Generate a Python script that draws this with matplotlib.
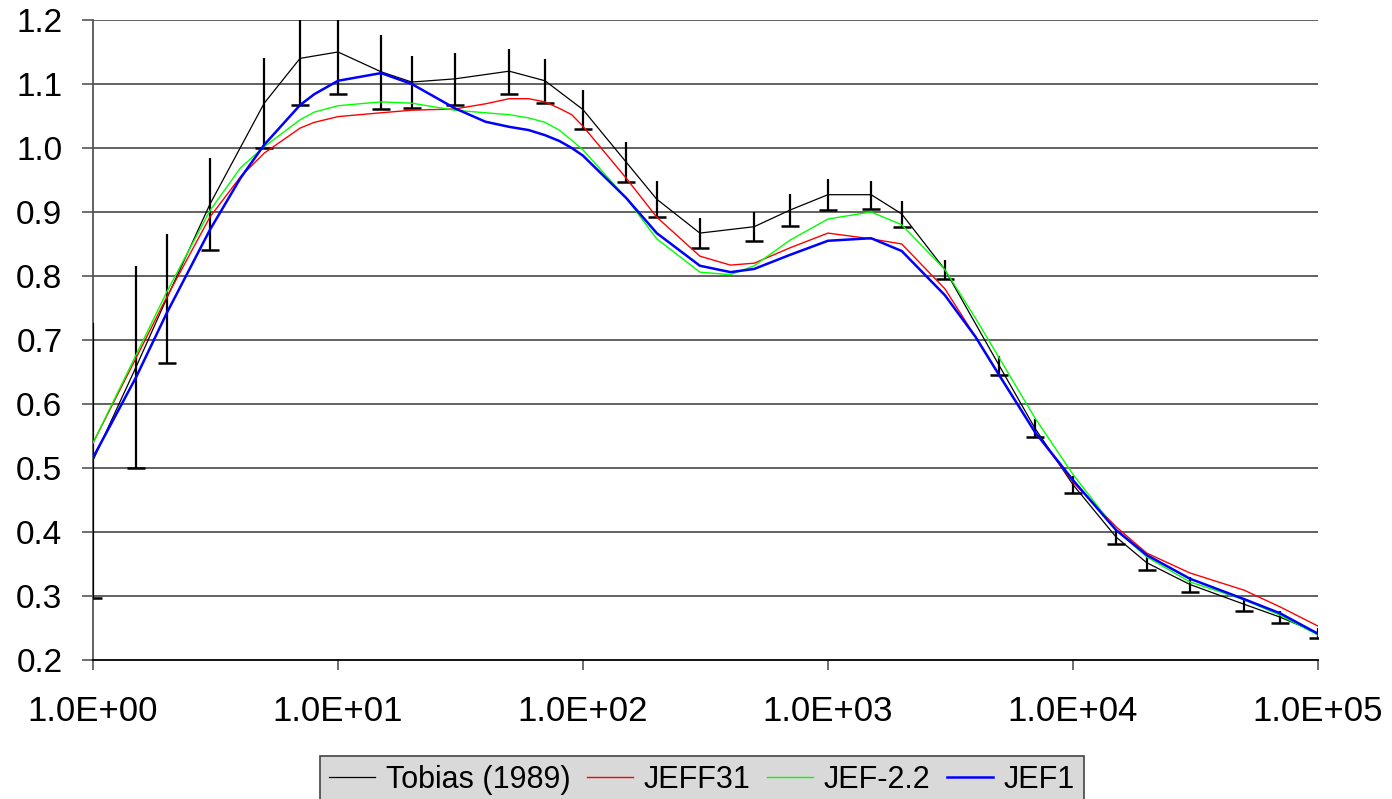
import numpy as np
import matplotlib.pyplot as plt
from matplotlib.lines import Line2D
from matplotlib.ticker import FixedLocator, NullLocator

# measured points (Tobias 1989) with +/- errors
tob_x = [1, 1.5, 2, 3, 5, 7, 10, 15, 20, 30, 50, 70, 100, 150, 200, 300, 500, 700,
         1000, 1500, 2000, 3000, 5000, 7000, 1e4, 1.5e4, 2e4, 3e4, 5e4, 7e4, 1e5]
tob_y = [0.512, 0.658, 0.765, 0.912, 1.07, 1.14, 1.15, 1.119, 1.103, 1.108, 1.12, 1.105,
         1.06, 0.978, 0.92, 0.867, 0.877, 0.903, 0.927, 0.927, 0.897, 0.81, 0.66, 0.562,
         0.474, 0.392, 0.352, 0.318, 0.287, 0.267, 0.242]
tob_err = [0.215, 0.158, 0.101, 0.072, 0.07, 0.073, 0.066, 0.058, 0.041, 0.041, 0.035, 0.034,
           0.03, 0.031, 0.028, 0.023, 0.023, 0.025, 0.024, 0.022, 0.02, 0.015, 0.015, 0.014,
           0.013, 0.011, 0.011, 0.012, 0.01, 0.009, 0.008]

# calculated curves
calc_x = [1, 1.5, 2, 3, 4, 5, 7, 8, 10, 15, 20, 30, 40, 50, 60, 70, 80, 90, 100, 150, 200,
          300, 400, 500, 700, 1000, 1500, 2000, 3000, 4000, 5000, 7000, 1e4, 1.5e4, 2e4,
          3e4, 5e4, 7e4, 1e5]
jeff31 = [0.539, 0.672, 0.767, 0.892, 0.955, 0.992, 1.031, 1.040, 1.049, 1.055, 1.059, 1.061,
          1.069, 1.077, 1.077, 1.072, 1.062, 1.052, 1.034, 0.953, 0.892, 0.831, 0.817, 0.820,
          0.844, 0.867, 0.858, 0.850, 0.780, 0.705, 0.645, 0.556, 0.478, 0.408, 0.367, 0.336,
          0.309, 0.283, 0.253]
jef22 = [0.539, 0.677, 0.775, 0.902, 0.969, 1.002, 1.044, 1.056, 1.066, 1.072, 1.070, 1.059,
         1.055, 1.052, 1.047, 1.040, 1.028, 1.012, 0.997, 0.922, 0.858, 0.806, 0.802, 0.816,
         0.856, 0.889, 0.900, 0.880, 0.810, 0.734, 0.672, 0.578, 0.490, 0.403, 0.361, 0.322,
         0.294, 0.270, 0.239]
jef1 = [0.516, 0.642, 0.742, 0.872, 0.953, 1.005, 1.067, 1.084, 1.105, 1.117, 1.100, 1.062,
        1.041, 1.033, 1.028, 1.020, 1.011, 1.000, 0.988, 0.922, 0.867, 0.816, 0.806, 0.811,
        0.833, 0.855, 0.859, 0.839, 0.770, 0.705, 0.645, 0.556, 0.481, 0.403, 0.364, 0.327,
        0.295, 0.273, 0.241]

xticks = [1, 10, 100, 1000, 1e4, 1e5]
xtick_labels = ['1.0E+00', '1.0E+01', '1.0E+02', '1.0E+03', '1.0E+04', '1.0E+05']
yticks = [0.2, 0.3, 0.4, 0.5, 0.6, 0.7, 0.8, 0.9, 1.0, 1.1, 1.2]

plt.rcParams['font.family'] = ['Liberation Sans', 'DejaVu Sans']

fig = plt.figure(figsize=(13.92, 7.99), dpi=100)
ax = fig.add_axes([0.0668, 0.174, 0.88, 0.801])

for v in yticks[1:]:
    ax.axhline(v, color='#555555', lw=1.3, zorder=1)

lo = np.array(tob_y) - np.array(tob_err)
ax.errorbar(tob_x, tob_y, yerr=tob_err, color='black', lw=0.9, elinewidth=1.6,
            capsize=0, zorder=3)
ax.plot(tob_x, lo, linestyle='none', marker='_', markersize=13, markeredgewidth=1.8,
        color='black', zorder=3)
ax.plot(calc_x, jeff31, color='#ff0000', lw=1.0, zorder=4)
ax.plot(calc_x, jef22, color='#00ff00', lw=1.0, zorder=4)
ax.plot(calc_x, jef1, color='#0000ff', lw=1.8, zorder=5)

ax.set_xscale('log')
ax.set_xlim(1, 1e5)
ax.set_ylim(0.2, 1.2)
ax.xaxis.set_major_locator(FixedLocator(xticks))
ax.xaxis.set_minor_locator(NullLocator())
ax.set_xticklabels(xtick_labels)
ax.set_yticks(yticks)
ax.set_yticklabels(['%.1f' % v for v in yticks])
ax.tick_params(axis='x', direction='out', length=7, width=1.2, color='#555555',
               pad=18, labelsize=25)
ax.tick_params(axis='y', direction='out', length=8, width=1.2, color='#555555',
               pad=14, labelsize=24)

for s in ['top', 'right']:
    ax.spines[s].set_visible(False)
ax.spines['left'].set_color('#555555')
ax.spines['left'].set_linewidth(1.3)
ax.spines['bottom'].set_color('black')
ax.spines['bottom'].set_linewidth(1.3)

handles = [Line2D([], [], color='black', lw=0.9),
           Line2D([], [], color='#ff0000', lw=1.0),
           Line2D([], [], color='#00ff00', lw=1.0),
           Line2D([], [], color='#0000ff', lw=1.8)]
labels = ['Tobias (1989)', 'JEFF31', 'JEF-2.2', 'JEF1']
leg = fig.legend(handles, labels, loc='upper center', bbox_to_anchor=(0.5045, 0.054), ncol=4,
                 frameon=True, fancybox=False, borderaxespad=0, borderpad=0.3,
                 handlelength=1.5, handletextpad=0.35, columnspacing=0.55,
                 prop={'size': 22})
leg.get_frame().set_facecolor('#d9d9d9')
leg.get_frame().set_edgecolor('#444444')
leg.get_frame().set_linewidth(1.2)
leg.get_frame().set_alpha(1)

fig.savefig('out.png', dpi=100)
